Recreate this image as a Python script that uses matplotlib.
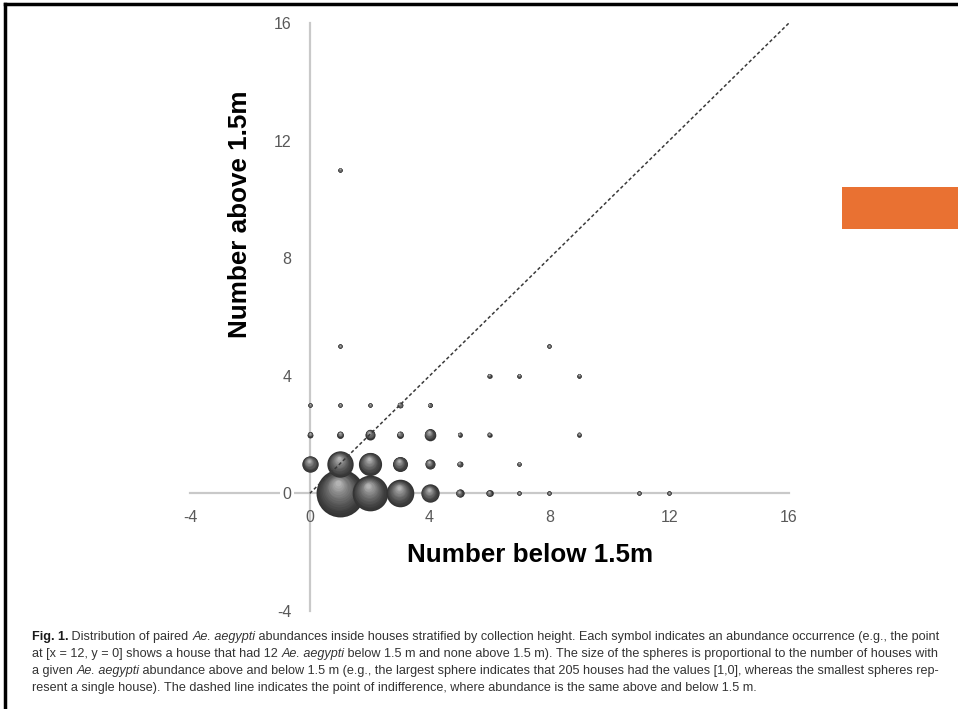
import matplotlib
matplotlib.use("Agg")
import matplotlib.pyplot as plt
import matplotlib.transforms as mtransforms
from matplotlib.patches import Rectangle
import numpy as np

# abundance below 1.5 m (x), above 1.5 m (y), number of houses (bubble size)
x_below = [1, 2, 3, 4, 5, 6, 7, 8, 11, 12,
           0, 1, 2, 3, 4, 5, 7,
           0, 1, 2, 3, 4, 5, 6, 9,
           0, 1, 2, 3, 4,
           6, 7, 9,
           1, 8,
           1]
y_above = [0, 0, 0, 0, 0, 0, 0, 0, 0, 0,
           1, 1, 1, 1, 1, 1, 1,
           2, 2, 2, 2, 2, 2, 2, 2,
           3, 3, 3, 3, 3,
           4, 4, 4,
           5, 5,
           11]
n_houses = [205, 114, 68, 30, 6, 4, 1, 1, 1, 1,
            24, 62, 48, 20, 9, 3, 1,
            3, 4, 9, 4, 12, 1, 1, 1,
            1, 1, 1, 3, 2,
            1, 1, 1,
            1, 1,
            1]

ticks = [-4, 0, 4, 8, 12, 16]

plt.rcParams['font.family'] = ['Liberation Sans', 'DejaVu Sans']
plt.rcParams['axes.unicode_minus'] = False
fig = plt.figure(figsize=(9.58, 7.09), dpi=100)

# slide frame
fig.add_artist(plt.Line2D([0.005, 0.005], [0, 0.995], transform=fig.transFigure, color='black', lw=2.5))
fig.add_artist(plt.Line2D([0.005, 1.0], [0.995, 0.995], transform=fig.transFigure, color='black', lw=2.5))
fig.add_artist(Rectangle((842 / 958, 1 - 229 / 709), 116 / 958, 42 / 709,
                         transform=fig.transFigure, color='#E97132', lw=0))

ax = fig.add_axes([190 / 958, 1 - 611 / 709, 599 / 958, 588 / 709])
ax.set_xlim(-4, 16)
ax.set_ylim(-4, 16)
for side in ['top', 'right']:
    ax.spines[side].set_visible(False)
for side in ['left', 'bottom']:
    ax.spines[side].set_position(('data', 0))
    ax.spines[side].set_color('#c9c9c9')
    ax.spines[side].set_linewidth(1.6)
    ax.spines[side].set_zorder(0.5)
ax.set_xticks(ticks)
ax.set_yticks(ticks)
ax.tick_params(length=0, labelsize=11.5, colors='#595959', pad=12)
ax.tick_params(axis='y', pad=13)
ax.yaxis.set_zorder(1)
fig.canvas.draw()
for lab in ax.get_yticklabels():
    lab.set_bbox(dict(facecolor='white', edgecolor='none', pad=2))
ax.patch.set_alpha(0)

# shaded spheres: stacked circles getting lighter towards a highlight near the top
scale = 5.8  # points^2 per house
layers = 16
order = sorted(range(len(n_houses)), key=lambda i: (y_above[i], x_below[i]))
for i in order:
    s = max(n_houses[i] * scale, 10)
    r = np.sqrt(s) / 2
    for k in range(layers):
        t = k / (layers - 1)
        f = 1 - 0.88 * t
        g = 0.2 + 0.5 * t ** 1.3
        tr = mtransforms.offset_copy(ax.transData, fig=fig, x=-0.08 * r * t,
                                     y=0.42 * r * t, units='points')
        ax.scatter([x_below[i]], [y_above[i]], s=s * f ** 2, color=(g, g, g),
                   lw=0, transform=tr, zorder=3 + i * 0.01, clip_on=False)

ax.plot([0, 16], [0, 16], color='#3a3a3a', lw=1.1, ls=(0, (2.2, 1.6)), zorder=10)

fig.text(530 / 958, 1 - 555 / 709, 'Number below 1.5m', ha='center', va='center',
         fontsize=18.7, fontweight='bold', color='black')
fig.text(240 / 958, 1 - 214 / 709, 'Number above 1.5m', ha='center', va='center',
         rotation=90, fontsize=18.7, fontweight='bold', color='black')

# caption with bold figure number and italic species names
caption = [
    [("Fig. 1.", 'normal', 'bold'), (" Distribution of paired ", 'normal', 'normal'),
     ("Ae. aegypti", 'italic', 'normal'),
     (" abundances inside houses stratified by collection height. Each symbol indicates an abundance occurrence (e.g., the point", 'normal', 'normal')],
    [("at [x = 12, y = 0] shows a house that had 12 ", 'normal', 'normal'), ("Ae. aegypti", 'italic', 'normal'),
     (" below 1.5 m and none above 1.5 m). The size of the spheres is proportional to the number of houses with", 'normal', 'normal')],
    [("a given ", 'normal', 'normal'), ("Ae. aegypti", 'italic', 'normal'),
     (" abundance above and below 1.5 m (e.g., the largest sphere indicates that 205 houses had the values [1,0], whereas the smallest spheres rep-", 'normal', 'normal')],
    [("resent a single house). The dashed line indicates the point of indifference, where abundance is the same above and below 1.5 m.", 'normal', 'normal')],
]
renderer = fig.canvas.get_renderer()
line_y = [637, 654, 671, 688]
for segs, ypx in zip(caption, line_y):
    xpx = 32
    for txt, style, weight in segs:
        color = '#1a1a1a' if weight == 'bold' else '#333333'
        t = fig.text(xpx / 958, 1 - ypx / 709, txt.replace(' ', '\u00a0'), ha='left', va='center',
                     fontsize=9.1, fontstyle=style, fontweight=weight, color=color)
        xpx += t.get_window_extent(renderer).width

fig.savefig('out.png', dpi=100)
